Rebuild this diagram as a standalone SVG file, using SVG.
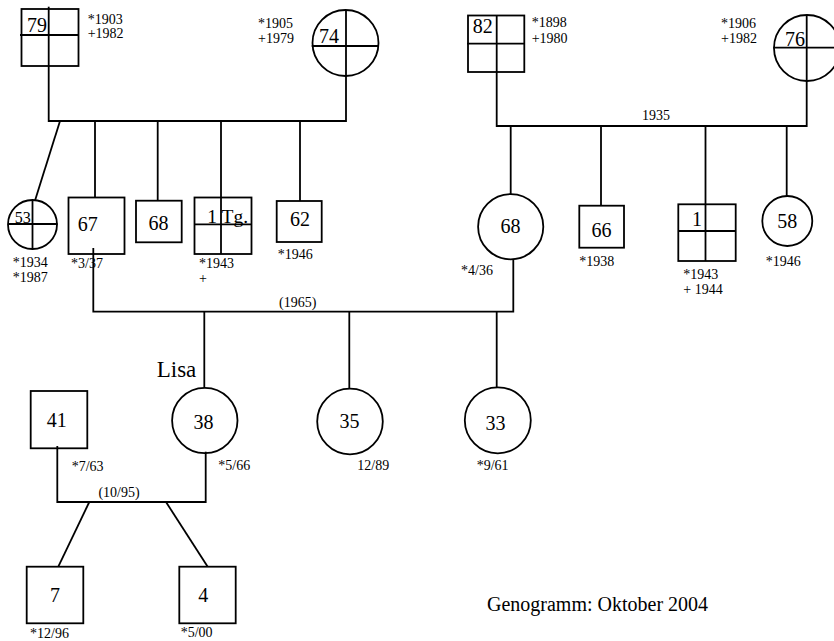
<svg xmlns="http://www.w3.org/2000/svg" width="834" height="641" viewBox="0 0 834 641">
<style>
.s{fill:none;stroke:#000;stroke-width:1.8}
.w{fill:#fff;stroke:#000;stroke-width:1.8}
text{font-family:"Liberation Serif","Times New Roman",serif;fill:#000}
.n{font-size:20px}
.m{font-size:14px}
.c{text-anchor:middle}
</style>
<rect width="834" height="641" fill="#fff"/>
<g id="connectors" class="s">
<polyline points="48.7,65.7 48.7,121 346,121 346,76"/>
<line x1="60" y1="121" x2="35" y2="200.5"/>
<line x1="95" y1="121" x2="95" y2="197.5"/>
<line x1="157.7" y1="121" x2="157.7" y2="200.7"/>
<line x1="221" y1="121" x2="221" y2="197.5"/>
<line x1="300" y1="121" x2="300" y2="201"/>
<polyline points="496.7,72 496.7,126 806.7,126 806.7,81"/>
<line x1="510.7" y1="126" x2="510.7" y2="194"/>
<line x1="601" y1="126" x2="601" y2="205.7"/>
<line x1="705.5" y1="126" x2="705.5" y2="204.3"/>
<line x1="786.7" y1="126" x2="786.7" y2="196"/>
<polyline points="93.3,248 93.3,311.7 513.3,311.7 513.3,258.5"/>
<line x1="204.3" y1="311.7" x2="204.3" y2="387.7"/>
<line x1="349.3" y1="311.7" x2="349.3" y2="389"/>
<line x1="496.7" y1="311.7" x2="496.7" y2="387.3"/>
<polyline points="57.3,446 57.3,502 205.7,502 205.7,451.7"/>
<line x1="89.3" y1="502" x2="58.3" y2="566.7"/>
<line x1="166" y1="502" x2="207.7" y2="566.7"/>
</g>
<g id="node-79">
<rect class="w" x="21.5" y="9" width="57" height="57"/>
<line class="s" x1="48.7" y1="6.7" x2="48.7" y2="66"/>
<line class="s" x1="20" y1="35" x2="78.5" y2="35"/>
<text class="n" x="27" y="32">79</text>
<text class="m" x="87.7" y="24">*1903</text>
<text class="m" x="87.7" y="38">+1982</text>
</g>
<g id="node-74">
<circle class="w" cx="345.5" cy="43" r="33"/>
<line class="s" x1="346" y1="10" x2="346" y2="76"/>
<line class="s" x1="311.7" y1="46" x2="379" y2="46"/>
<text class="n" x="319" y="42.7">74</text>
<text class="m" x="258" y="28">*1905</text>
<text class="m" x="258" y="42.5">+1979</text>
</g>
<g id="node-53">
<circle class="w" cx="32.5" cy="224.5" r="24.5"/>
<line class="s" x1="32.5" y1="200" x2="32.5" y2="249"/>
<line class="s" x1="8" y1="224" x2="57.5" y2="224"/>
<text x="14.7" y="223" style="font-size:16px">53</text>
<text class="m" x="12.7" y="267">*1934</text>
<text class="m" x="12.7" y="281.7">*1987</text>
</g>
<g id="node-67">
<rect class="w" x="68.5" y="197.5" width="56" height="56.5"/>
<line class="s" x1="93.3" y1="248" x2="93.3" y2="254"/>
<text class="n" x="77.7" y="231">67</text>
<text class="m" x="71" y="268.3">*3/37</text>
</g>
<g id="node-68a">
<rect class="w" x="136" y="200.7" width="45.7" height="41.6"/>
<text class="n c" x="158.5" y="230">68</text>
</g>
<g id="node-1tg">
<rect class="w" x="194.5" y="197.5" width="57" height="56.5"/>
<line class="s" x1="221" y1="197.5" x2="221" y2="254"/>
<line class="s" x1="194.5" y1="224.3" x2="251.5" y2="224.3"/>
<text x="207.3" y="223.3" style="font-size:19.5px">1 Tg.</text>
<text class="m" x="199" y="268.3">*1943</text>
<text class="m" x="199" y="283">+</text>
</g>
<g id="node-62">
<rect class="w" x="276.7" y="201" width="45" height="41"/>
<text class="n c" x="300" y="225.7">62</text>
<text class="m" x="277.7" y="259">*1946</text>
</g>
<g id="node-82">
<rect class="w" x="468" y="15.5" width="56.3" height="56.5"/>
<line class="s" x1="496.7" y1="15.5" x2="496.7" y2="72"/>
<line class="s" x1="467" y1="43.7" x2="524.3" y2="43.7"/>
<text class="n" x="472.7" y="33.3">82</text>
<text class="m" x="531.7" y="26.7">*1898</text>
<text class="m" x="531.7" y="42.7">+1980</text>
</g>
<g id="node-76">
<circle class="w" cx="807" cy="48" r="33"/>
<line class="s" x1="806.7" y1="15" x2="806.7" y2="81"/>
<line class="s" x1="773.3" y1="47.7" x2="834" y2="47.7"/>
<text class="n" x="785" y="46">76</text>
<text class="m" x="721" y="28.3">*1906</text>
<text class="m" x="721" y="43.3">+1982</text>
</g>
<text class="m c" x="656" y="120">1935</text>
<g id="node-68b">
<circle class="w" cx="510.7" cy="226.7" r="32.6"/>
<text class="n c" x="510.5" y="233.3">68</text>
<text class="m" x="461" y="275">*4/36</text>
</g>
<g id="node-66">
<rect class="w" x="579.3" y="205.7" width="44.7" height="42"/>
<text class="n c" x="601.5" y="236.7">66</text>
<text class="m" x="579.3" y="266">*1938</text>
</g>
<g id="node-1">
<rect class="w" x="678.3" y="204.3" width="57.4" height="56.7"/>
<line class="s" x1="705.5" y1="204.3" x2="705.5" y2="261"/>
<line class="s" x1="678.3" y1="231" x2="735.7" y2="231"/>
<text class="n c" x="697" y="225.7">1</text>
<text class="m" x="683.3" y="279">*1943</text>
<text class="m" x="683.3" y="294">+ 1944</text>
</g>
<g id="node-58">
<circle class="w" cx="787.3" cy="221" r="25"/>
<text class="n c" x="787.3" y="227.7">58</text>
<text class="m" x="765.7" y="265.7">*1946</text>
</g>
<text class="m c" x="297.7" y="307.3">(1965)</text>
<g id="node-38">
<circle class="w" cx="204.8" cy="420.5" r="32.7"/>
<line class="s" x1="205.7" y1="451.7" x2="205.7" y2="453.2"/>
<text x="156.7" y="376.7" style="font-size:23px">Lisa</text>
<text class="n c" x="203.5" y="429.3">38</text>
<text class="m" x="218.3" y="470">*5/66</text>
</g>
<g id="node-35">
<circle class="w" cx="350" cy="421.5" r="32.8"/>
<text class="n c" x="349.5" y="428.3">35</text>
<text class="m" x="357.3" y="470">12/89</text>
</g>
<g id="node-33">
<circle class="w" cx="497.8" cy="420.3" r="33"/>
<text class="n c" x="495.5" y="430">33</text>
<text class="m" x="476.7" y="470">*9/61</text>
</g>
<g id="node-41">
<rect class="w" x="30.7" y="391" width="56.6" height="57.3"/>
<line class="s" x1="57.3" y1="446" x2="57.3" y2="448.3"/>
<text class="n c" x="56.7" y="427.3">41</text>
<text class="m" x="71.7" y="470.7">*7/63</text>
</g>
<text class="m c" x="119" y="496.7">(10/95)</text>
<g id="node-7">
<rect class="w" x="26.7" y="566.7" width="56.6" height="56.6"/>
<text class="n c" x="55" y="601.7">7</text>
<text class="m" x="30" y="638">*12/96</text>
</g>
<g id="node-4">
<rect class="w" x="179.3" y="566.7" width="56.4" height="56.6"/>
<text class="n c" x="203.3" y="601.7">4</text>
<text class="m" x="180.7" y="636.7">*5/00</text>
</g>
<text x="487" y="611" style="font-size:20px">Genogramm: Oktober 2004</text>
</svg>
